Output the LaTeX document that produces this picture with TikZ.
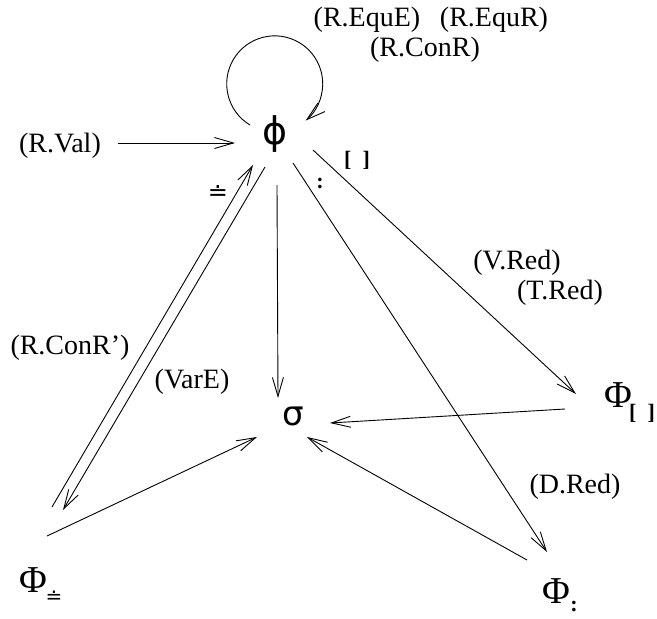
\documentclass[tikz,border=0pt]{standalone}
\usepackage{fontspec}
\setmainfont{Liberation Serif}
\newfontfamily\grkfont{DejaVu Sans}
\usetikzlibrary{arrows.meta}

\tikzset{
  lbl/.style={inner sep=0pt, font=\fontsize{28}{30}\selectfont},
  deqs/.style={inner sep=0pt, font=\grkfont\fontsize{24}{26}\selectfont},
  brk/.style={inner sep=0pt, font=\fontsize{22}{24}\selectfont\bfseries},
  grk/.style={inner sep=0pt, font=\grkfont\fontsize{34}{36}\selectfont},
  bigphi/.style={inner sep=0pt, font=\fontsize{38}{40}\selectfont},
  arr/.style={-{Straight Barb[length=19pt,width=11pt]}, line width=0.9pt},
}

\begin{document}
\begin{tikzpicture}[x=1pt, y=-1pt]
\useasboundingbox (0,0) rectangle (657,619);
%% -- main symbols -----------------------------------------------------------
\node[grk, font=\grkfont\fontsize{38}{40}\selectfont] (phi) at (275,134) {ϕ};
\node[grk] (sigma) at (293,416) {σ};
\node[bigphi] (PhiB) at (618,395) {Φ};
\node[brk] (PhiBsub) at (642,413) {[\ \ ]};
\node[bigphi] (PhiE) at (33,580) {Φ};
\node[deqs, font=\grkfont\fontsize{20}{22}\selectfont] (PhiEsub) at (54,597) {≐};
\node[bigphi] (PhiC) at (556,591) {Φ};
\node[brk] (PhiCsub) at (574,606) {:};
%% -- rule labels ------------------------------------------------------------
\node[lbl] (equE) at (367,20) {(R.EquE)};
\node[lbl] (equR) at (494,20) {(R.EquR)};
\node[lbl] (conR) at (425,50) {(R.ConR)};
\node[lbl] (rval) at (60,146) {(R.Val)};
\node[lbl] (vred) at (517,263) {(V.Red)};
\node[lbl] (tred) at (560,293) {(T.Red)};
\node[lbl] (dred) at (575,487) {(D.Red)};
\node[lbl] (conRp) at (70,348) {(R.ConR')};
\node[lbl] (varE) at (192,382) {(VarE)};
%% -- edge marks -------------------------------------------------------------
\node[deqs] (deq) at (218,193) {≐};
\node[brk] (colon) at (320,183) {:};
\node[brk] (brkt) at (357,160) {[\ \ ]};
%% -- arrows -----------------------------------------------------------------
\draw[arr] ([shift={(58,-3)}]rval.center) -- ([shift={(-40,9)}]phi.center);
\draw[arr] ([shift={(-25,-9)}]phi.center) arc[start angle=121, end angle=410, radius=48];
\draw[arr] ([shift={(38,16)}]phi.center) -- ([shift={(-42,-1)}]PhiB.center);
\draw[arr] ([shift={(18,29)}]phi.center) -- ([shift={(-9,-39)}]PhiC.center);
\draw[arr] ([shift={(2,51)}]phi.center) -- ([shift={(-15,-18)}]sigma.center);
\draw[arr] ([shift={(-53,14)}]PhiB.center) -- ([shift={(37,7)}]sigma.center);
\draw[arr] ([shift={(-29,-31)}]PhiC.center) -- ([shift={(14,21)}]sigma.center);
\draw[arr] ([shift={(14,-44)}]PhiE.center) -- ([shift={(-36,21)}]sigma.center);
\draw[arr] ([shift={(19,-73)}]PhiE.center) -- ([shift={(-22,31)}]phi.center);
\draw[arr] ([shift={(-10,33)}]phi.center) -- ([shift={(30,-70)}]PhiE.center);
\end{tikzpicture}
\end{document}
